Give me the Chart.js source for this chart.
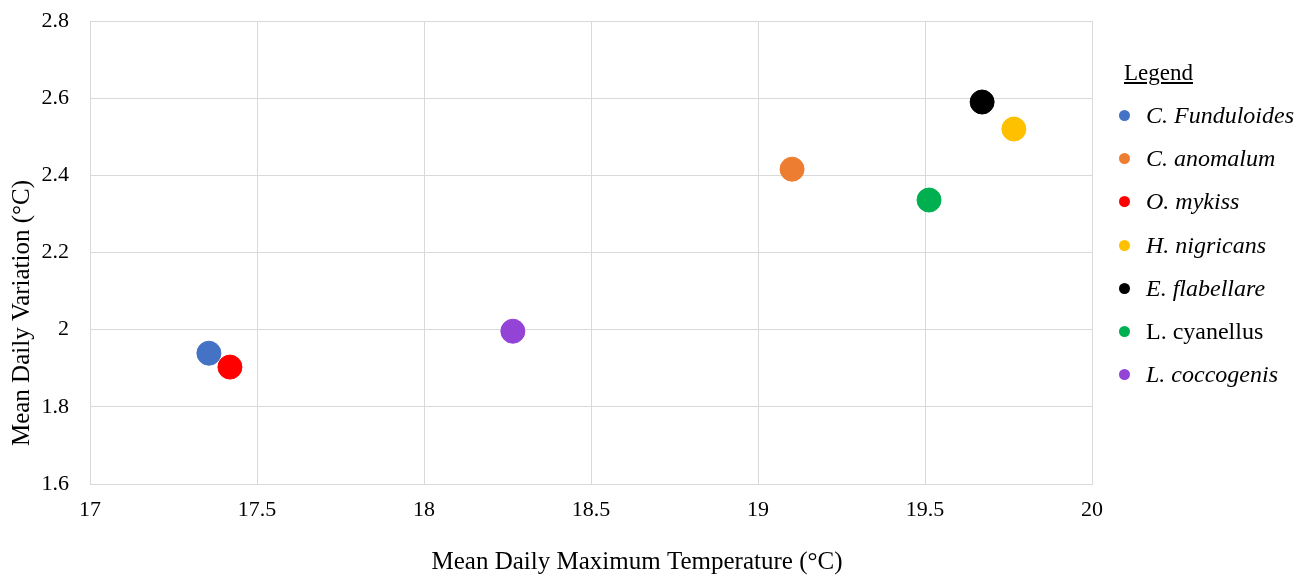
<!DOCTYPE html>
<html>
<head>
<meta charset="utf-8">
<script src="https://cdn.jsdelivr.net/npm/chart.js@4/dist/chart.umd.min.js"></script>
<style>
  body { margin: 0; background: #fff; }
  #wrap { position: relative; width: 1303px; height: 575px; }
  #legend { position: absolute; left: 1116px; top: 58px; font-family: "Liberation Serif", serif; font-size: 24px; color: #000; }
  #legend .title { text-decoration: underline; margin-left: 8px; height: 36px; line-height: 30px; font-size: 23px; }
  #legend .item { height: 43.2px; line-height: 43.2px; white-space: nowrap; }
  #legend .dot { display: inline-block; width: 11px; height: 11px; border-radius: 50%; margin-left: 3px; margin-right: 16px; vertical-align: middle; position: relative; top: -2px; }
</style>
</head>
<body>
<div id="wrap">
  <canvas id="chart" width="1303" height="575"></canvas>
  <div id="legend"></div>
</div>
<script>
// species and their values
const species = ["C. Funduloides", "C. anomalum", "O. mykiss", "H. nigricans", "E. flabellare", "L. cyanellus", "L. coccogenis"];
const maxTemp = [17.356, 19.102, 17.419, 19.766, 19.671, 19.512, 18.266];
const dailyVar = [1.939, 2.416, 1.903, 2.520, 2.590, 2.336, 1.996];
const colors = ["#4472C4", "#ED7D31", "#FF0000", "#FFC000", "#000000", "#00B050", "#9343D6"];
const italic = [true, true, true, true, true, false, true];

const xTitle = "Mean Daily Maximum Temperature (°C)";
const yTitle = "Mean Daily Variation (°C)";

const font = "'Liberation Serif', 'Times New Roman', serif";

// one dataset per species so each gets its own colour
const datasets = species.map((name, i) => ({
  label: name,
  data: [{ x: maxTemp[i], y: dailyVar[i] }],
  backgroundColor: colors[i],
  borderColor: colors[i],
  borderWidth: 1,
  pointRadius: 12,
  pointHoverRadius: 12,
}));

// axis titles are centred on the whole chart like excel does, not on the plot
const axisTitles = {
  id: "axisTitles",
  afterDraw(chart) {
    const ctx = chart.ctx;
    ctx.save();
    ctx.fillStyle = "#000";
    ctx.font = "25px " + font;
    ctx.textAlign = "center";
    ctx.textBaseline = "middle";
    ctx.fillText(xTitle, 637, 562);
    ctx.translate(22, 313);
    ctx.rotate(-Math.PI / 2);
    ctx.fillText(yTitle, 0, 0);
    ctx.restore();
  },
};

const trimLabel = (v) => String(Math.round(v * 10) / 10);

new Chart(document.getElementById("chart"), {
  type: "scatter",
  data: { datasets: datasets },
  plugins: [axisTitles],
  options: {
    responsive: false,
    animation: false,
    layout: { padding: { top: 21, right: 211, bottom: 0, left: 0 } },
    plugins: { legend: { display: false }, tooltip: { enabled: false } },
    scales: {
      x: {
        min: 17, max: 20,
        ticks: { stepSize: 0.5, padding: 13, color: "#000", font: { family: font, size: 22 }, callback: trimLabel },
        grid: { color: "#d9d9d9", drawTicks: false },
        border: { color: "#d9d9d9" },
        afterFit: (scale) => { scale.height = 91; },
      },
      y: {
        min: 1.6, max: 2.8,
        ticks: { stepSize: 0.2, padding: 21, color: "#000", font: { family: font, size: 22 }, callback: trimLabel },
        grid: { color: "#d9d9d9", drawTicks: false },
        border: { color: "#d9d9d9" },
        // tick padding gets added to top/bottom padding, drop it so the plot top is set by layout padding
        afterFit: (scale) => { scale.width = 90; scale.paddingTop = 0; scale.paddingBottom = 0; },
      },
    },
  },
});

// html legend built from the same arrays
const legend = document.getElementById("legend");
legend.innerHTML = '<div class="title">Legend</div>';
species.forEach((name, i) => {
  const row = document.createElement("div");
  row.className = "item";
  row.innerHTML = `<span class="dot" style="background:${colors[i]}"></span><span style="font-style:${italic[i] ? "italic" : "normal"}">${name}</span>`;
  legend.appendChild(row);
});
</script>
</body>
</html>
